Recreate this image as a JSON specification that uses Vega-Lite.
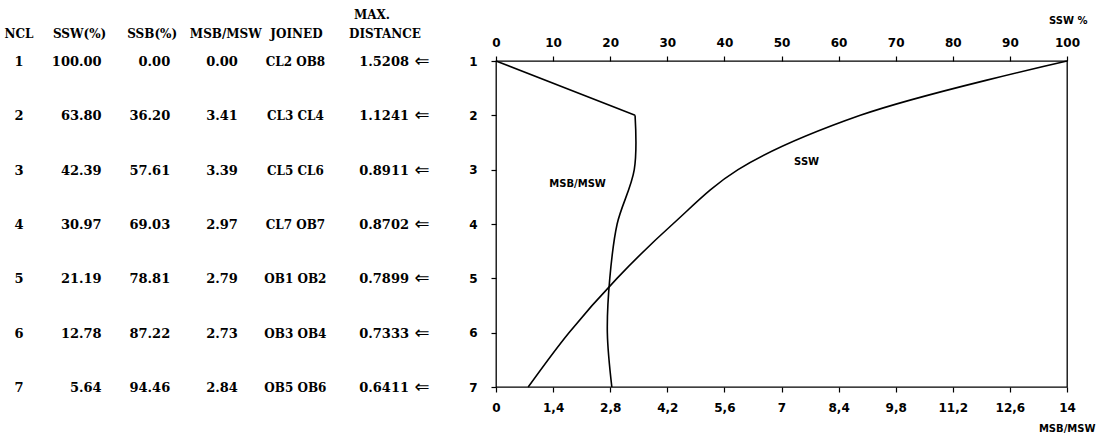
{
  "$schema": "https://vega.github.io/schema/vega-lite/v6.json",
  "padding": {"left": 0, "top": 9, "right": 0, "bottom": 0},
  "bounds": "flush",
  "spacing": 95,
  "background": "white",
  "config": {"view": {"stroke": null}, "axis": {"grid": false, "labelFlush": false}},
  "datasets": {
    "d": [
      {"ncl": 1, "ssw": 100.00, "ssb": 0.00, "ratio": 0.00, "joined": "CL2 OB8", "dist": 1.5208},
      {"ncl": 2, "ssw": 63.80, "ssb": 36.20, "ratio": 3.41, "joined": "CL3 CL4", "dist": 1.1241},
      {"ncl": 3, "ssw": 42.39, "ssb": 57.61, "ratio": 3.39, "joined": "CL5 CL6", "dist": 0.8911},
      {"ncl": 4, "ssw": 30.97, "ssb": 69.03, "ratio": 2.97, "joined": "CL7 OB7", "dist": 0.8702},
      {"ncl": 5, "ssw": 21.19, "ssb": 78.81, "ratio": 2.79, "joined": "OB1 OB2", "dist": 0.7899},
      {"ncl": 6, "ssw": 12.78, "ssb": 87.22, "ratio": 2.73, "joined": "OB3 OB4", "dist": 0.7333},
      {"ncl": 7, "ssw": 5.64, "ssb": 94.46, "ratio": 2.84, "joined": "OB5 OB6", "dist": 0.6411}
    ],
    "h": [
      {"col": "NCL", "label": "NCL"},
      {"col": "SSW", "label": "SSW(%)"},
      {"col": "SSB", "label": "SSB(%)"},
      {"col": "RATIO", "label": "MSB/MSW"},
      {"col": "JOINED", "label": "JOINED"},
      {"col": "DIST", "label": "DISTANCE"},
      {"col": "MAX", "label": "MAX."}
    ]
  },
  "resolve": {"scale": {"x": "independent", "y": "independent"}},
  "hconcat": [
    {
      "width": 401,
      "height": 326,
      "data": {"name": "d"},
      "layer": [
        {
          "mark": {"type": "text", "font": "DejaVu Serif", "fontWeight": "bold", "fontSize": 13, "align": "center", "baseline": "middle", "dy": 1},
          "encoding": {
            "x": {"datum": "NCL", "type": "nominal", "scale": {"type": "point", "domain": ["NCL", "SSW", "SSB", "RATIO", "JOINED", "DIST"], "range": [19, 382], "padding": 0}, "axis": null},
            "y": {"field": "ncl", "type": "quantitative", "scale": {"domain": [1, 7], "reverse": true, "nice": false, "zero": false}, "axis": null},
            "text": {"field": "ncl", "type": "quantitative", "format": "d"}
          }
        },
        {
          "mark": {"type": "text", "font": "DejaVu Serif", "fontWeight": "bold", "fontSize": 13, "align": "right", "baseline": "middle", "dy": 1, "dx": 10},
          "encoding": {
            "x": {"datum": "SSW", "type": "nominal"},
            "y": {"field": "ncl", "type": "quantitative"},
            "text": {"field": "ssw", "type": "quantitative", "format": ".2f"}
          }
        },
        {
          "mark": {"type": "text", "font": "DejaVu Serif", "fontWeight": "bold", "fontSize": 13, "align": "right", "baseline": "middle", "dy": 1, "dx": 6},
          "encoding": {
            "x": {"datum": "SSB", "type": "nominal"},
            "y": {"field": "ncl", "type": "quantitative"},
            "text": {"field": "ssb", "type": "quantitative", "format": ".2f"}
          }
        },
        {
          "mark": {"type": "text", "font": "DejaVu Serif", "fontWeight": "bold", "fontSize": 13, "align": "right", "baseline": "middle", "dy": 1, "dx": 1},
          "encoding": {
            "x": {"datum": "RATIO", "type": "nominal"},
            "y": {"field": "ncl", "type": "quantitative"},
            "text": {"field": "ratio", "type": "quantitative", "format": ".2f"}
          }
        },
        {
          "mark": {"type": "text", "font": "DejaVu Serif", "fontWeight": "bold", "fontSize": 12, "align": "center", "baseline": "middle", "dy": 1, "dx": -14},
          "encoding": {
            "x": {"datum": "JOINED", "type": "nominal"},
            "y": {"field": "ncl", "type": "quantitative"},
            "text": {"field": "joined", "type": "nominal"}
          }
        },
        {
          "mark": {"type": "text", "font": "DejaVu Serif", "fontWeight": "bold", "fontSize": 13, "align": "right", "baseline": "middle", "dy": 1, "dx": 27},
          "encoding": {
            "x": {"datum": "DIST", "type": "nominal"},
            "y": {"field": "ncl", "type": "quantitative"},
            "text": {"field": "dist", "type": "quantitative", "format": ".4f"}
          }
        },
        {
          "mark": {"type": "text", "font": "DejaVu Sans", "fontSize": 18, "align": "center", "baseline": "middle", "dy": 1, "dx": 40, "text": "⇐"},
          "encoding": {
            "x": {"datum": "DIST", "type": "nominal"},
            "y": {"field": "ncl", "type": "quantitative"}
          }
        },
        {
          "data": {"name": "h"},
          "transform": [{"filter": "datum.col == 'NCL'"}],
          "mark": {"type": "text", "font": "DejaVu Serif", "fontWeight": "bold", "fontSize": 12, "align": "center", "baseline": "middle"},
          "encoding": {"x": {"datum": "NCL", "type": "nominal"}, "y": {"datum": 0.5, "type": "quantitative"}, "text": {"field": "label", "type": "nominal"}}
        },
        {
          "data": {"name": "h"},
          "transform": [{"filter": "datum.col == 'SSW'"}],
          "mark": {"type": "text", "font": "DejaVu Serif", "fontWeight": "bold", "fontSize": 12, "align": "center", "baseline": "middle", "dx": -12},
          "encoding": {"x": {"datum": "SSW", "type": "nominal"}, "y": {"datum": 0.5, "type": "quantitative"}, "text": {"field": "label", "type": "nominal"}}
        },
        {
          "data": {"name": "h"},
          "transform": [{"filter": "datum.col == 'SSB'"}],
          "mark": {"type": "text", "font": "DejaVu Serif", "fontWeight": "bold", "fontSize": 12, "align": "center", "baseline": "middle", "dx": -12},
          "encoding": {"x": {"datum": "SSB", "type": "nominal"}, "y": {"datum": 0.5, "type": "quantitative"}, "text": {"field": "label", "type": "nominal"}}
        },
        {
          "data": {"name": "h"},
          "transform": [{"filter": "datum.col == 'RATIO'"}],
          "mark": {"type": "text", "font": "DejaVu Serif", "fontWeight": "bold", "fontSize": 12, "align": "center", "baseline": "middle", "dx": -11},
          "encoding": {"x": {"datum": "RATIO", "type": "nominal"}, "y": {"datum": 0.5, "type": "quantitative"}, "text": {"field": "label", "type": "nominal"}}
        },
        {
          "data": {"name": "h"},
          "transform": [{"filter": "datum.col == 'JOINED'"}],
          "mark": {"type": "text", "font": "DejaVu Serif", "fontWeight": "bold", "fontSize": 12, "align": "center", "baseline": "middle", "dx": -13},
          "encoding": {"x": {"datum": "JOINED", "type": "nominal"}, "y": {"datum": 0.5, "type": "quantitative"}, "text": {"field": "label", "type": "nominal"}}
        },
        {
          "data": {"name": "h"},
          "transform": [{"filter": "datum.col == 'DIST'"}],
          "mark": {"type": "text", "font": "DejaVu Serif", "fontWeight": "bold", "fontSize": 12, "align": "center", "baseline": "middle", "dx": 3},
          "encoding": {"x": {"datum": "DIST", "type": "nominal"}, "y": {"datum": 0.5, "type": "quantitative"}, "text": {"field": "label", "type": "nominal"}}
        },
        {
          "data": {"name": "h"},
          "transform": [{"filter": "datum.col == 'MAX'"}],
          "mark": {"type": "text", "font": "DejaVu Serif", "fontWeight": "bold", "fontSize": 12, "align": "center", "baseline": "middle", "dx": -10},
          "encoding": {"x": {"datum": "DIST", "type": "nominal"}, "y": {"datum": 0.16, "type": "quantitative"}, "text": {"field": "label", "type": "nominal"}}
        }
      ]
    },
    {
      "width": 571,
      "height": 326,
      "data": {"name": "d"},
      "view": {"stroke": "black", "strokeWidth": 1.3},
      "resolve": {"scale": {"x": "independent"}, "axis": {"x": "independent"}},
      "layer": [
        {
          "layer": [
            {
              "mark": {"type": "line", "interpolate": "catmull-rom", "color": "black", "strokeWidth": 1.6},
              "encoding": {
                "x": {
                  "field": "ssw", "type": "quantitative",
                  "scale": {"domain": [0, 100], "nice": false, "zero": false},
                  "axis": {
                    "orient": "top", "values": [0, 10, 20, 30, 40, 50, 60, 70, 80, 90, 100], "format": "d",
                    "domain": false, "tickSize": 5, "tickColor": "black", "tickWidth": 1.2, "labelFlush": false,
                    "labelFont": "DejaVu Sans", "labelFontWeight": "bold", "labelFontSize": 12, "labelColor": "black", "labelPadding": 7,
                    "title": "SSW %", "titleFont": "DejaVu Sans", "titleFontWeight": "bold", "titleFontSize": 10, "titleColor": "black",
                    "titleAnchor": "end", "titleAlign": "right", "titleBaseline": "alphabetic", "titleX": 591, "titleY": -38
                  }
                },
                "y": {
                  "field": "ncl", "type": "quantitative",
                  "scale": {"domain": [1, 7], "reverse": true, "nice": false, "zero": false},
                  "axis": {
                    "values": [1, 2, 3, 4, 5, 6, 7], "format": "d", "domain": false, "tickSize": 5, "tickColor": "black", "tickWidth": 1.2, "labelFlush": false,
                    "labelFont": "DejaVu Sans", "labelFontWeight": "bold", "labelFontSize": 12, "labelColor": "black", "labelPadding": 14,
                    "title": null
                  }
                },
                "order": {"field": "ncl", "type": "quantitative"}
              }
            },
            {
              "data": {"values": [{"label": "SSW"}]},
              "mark": {"type": "text", "font": "DejaVu Sans", "fontWeight": "bold", "fontSize": 10, "align": "center", "baseline": "middle"},
              "encoding": {
                "x": {"datum": 54.4, "type": "quantitative", "axis": {"title": "SSW %"}},
                "y": {"datum": 2.86, "type": "quantitative"},
                "text": {"field": "label", "type": "nominal"}
              }
            }
          ]
        },
        {
          "layer": [
            {
              "transform": [{"filter": "datum.ncl <= 2"}],
              "mark": {"type": "line", "color": "black", "strokeWidth": 1.6},
              "encoding": {
                "x": {
                  "field": "ratio", "type": "quantitative",
                  "scale": {"domain": [0, 14], "nice": false, "zero": false},
                  "axis": {
                    "orient": "bottom", "values": [0, 1.4, 2.8, 4.2, 5.6, 7, 8.4, 9.8, 11.2, 12.6, 14],
                    "labelExpr": "replace(format(datum.value, '.1~f'), '.', ',')",
                    "domain": false, "tickSize": 5, "tickColor": "black", "tickWidth": 1.2, "labelFlush": false,
                    "labelFont": "DejaVu Sans", "labelFontWeight": "bold", "labelFontSize": 12, "labelColor": "black", "labelPadding": 10,
                    "title": "MSB/MSW", "titleFont": "DejaVu Sans", "titleFontWeight": "bold", "titleFontSize": 10, "titleColor": "black",
                    "titleAnchor": "end", "titleAlign": "right", "titleBaseline": "alphabetic", "titleX": 599, "titleY": 44
                  }
                },
                "y": {"field": "ncl", "type": "quantitative"},
                "order": {"field": "ncl", "type": "quantitative"}
              }
            },
            {
              "transform": [{"filter": "datum.ncl >= 2"}],
              "mark": {"type": "line", "interpolate": "catmull-rom", "color": "black", "strokeWidth": 1.6},
              "encoding": {
                "x": {"field": "ratio", "type": "quantitative"},
                "y": {"field": "ncl", "type": "quantitative"},
                "order": {"field": "ncl", "type": "quantitative"}
              }
            },
            {
              "data": {"values": [{"label": "MSB/MSW"}]},
              "mark": {"type": "text", "font": "DejaVu Sans", "fontWeight": "bold", "fontSize": 10, "align": "center", "baseline": "middle"},
              "encoding": {
                "x": {"datum": 2.0, "type": "quantitative", "axis": {"title": "MSB/MSW"}},
                "y": {"datum": 3.27, "type": "quantitative"},
                "text": {"field": "label", "type": "nominal"}
              }
            }
          ]
        }
      ]
    }
  ]
}
